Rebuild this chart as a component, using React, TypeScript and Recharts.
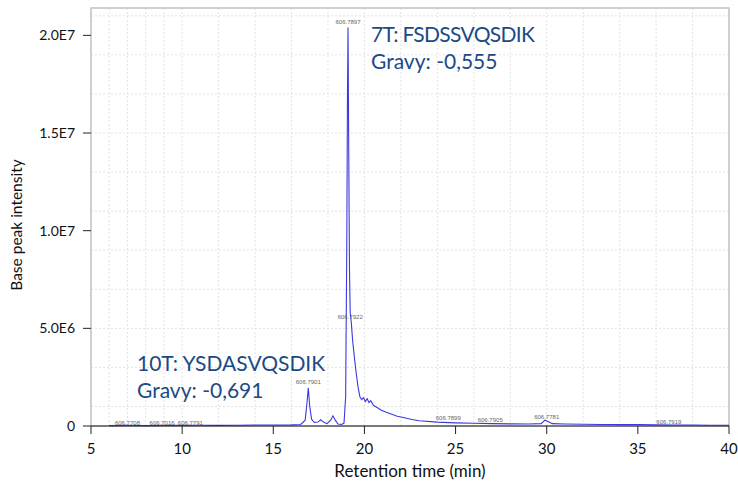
import React from 'react';
import {
  LineChart,
  Line,
  XAxis,
  YAxis,
  CartesianGrid,
  ReferenceArea,
  ReferenceDot,
} from 'recharts';

// retention time (min) and base peak intensity (x 1E6)
const retentionTime = [
  6, 7, 8, 9, 10, 11, 12, 13, 14, 15, 16, 16.5, 16.75, 16.85, 16.92, 17.0, 17.1, 17.25, 17.45, 17.6,
  17.75, 17.95, 18.15, 18.27, 18.4, 18.55, 18.75, 18.88, 18.97, 19.03, 19.07, 19.1, 19.14, 19.18,
  19.22, 19.28, 19.35, 19.45, 19.55, 19.65, 19.75, 19.85, 19.95, 20.05, 20.15, 20.25, 20.35, 20.5,
  20.7, 20.9, 21.2, 21.5, 21.8, 22.2, 22.6, 23, 24, 25, 26, 27, 28, 29, 29.7, 29.9, 30.1, 30.3, 31,
  32, 33, 34, 35, 36, 37, 38, 39, 40,
];
const intensity = [
  0.02, 0.03, 0.02, 0.03, 0.03, 0.04, 0.03, 0.04, 0.05, 0.05, 0.06, 0.08, 0.3, 1.2, 1.95, 1.0, 0.35,
  0.18, 0.2, 0.32, 0.2, 0.12, 0.3, 0.52, 0.3, 0.1, 0.08, 0.15, 1.5, 9, 17, 20.4, 14, 8, 5.8, 5.3, 4.4,
  3.5, 2.7, 2.0, 1.5, 1.35, 1.45, 1.25, 1.4, 1.2, 1.3, 1.05, 0.95, 0.82, 0.7, 0.6, 0.5, 0.42, 0.33,
  0.27, 0.2, 0.16, 0.14, 0.12, 0.11, 0.1, 0.12, 0.3, 0.22, 0.12, 0.1, 0.09, 0.08, 0.07, 0.07, 0.06,
  0.05, 0.05, 0.04, 0.04,
];

// m/z labels drawn over the trace
const peakTimes = [19.1, 19.22, 16.92, 7.0, 8.9, 10.45, 24.6, 26.9, 30.0, 36.7];
const peakLevels = [20.4, 5.6, 1.95, 0.15, 0.15, 0.15, 0.4, 0.3, 0.45, 0.22];
const peakTexts = [
  '606.7897', '606.7922', '606.7901', '606.7708', '606.7016', '606.7791',
  '606.7899', '606.7905', '606.7781', '606.7919',
];
const peakOnTop = [true, false, true, false, false, false, false, false, false, false];

const xTicks = [5, 10, 15, 20, 25, 30, 35, 40];
const yTicks = [0, 5, 10, 15, 20];
const gridX = Array.from({ length: 36 }, (_, i) => 5 + i);
const gridY = Array.from({ length: 22 }, (_, i) => i);

const data = retentionTime.map((t, i) => ({ t, v: intensity[i] }));

const fmtY = (v: number) =>
  v === 0 ? '0' : (v * 1e6).toExponential(1).toUpperCase().replace('E+', 'E');

const font = 'Lato, "Open Sans", sans-serif';
const noteColor = '#1b4a86';

export default function App() {
  return (
    <div style={{ position: 'absolute', left: 0, top: 0, width: 738, height: 490, fontFamily: font }}>
      <LineChart width={738} height={490} data={data} margin={{ top: 8, right: 9, left: 0, bottom: 0 }}>
        <CartesianGrid
          stroke="#e3e3e3"
          strokeDasharray="2 2"
          verticalValues={gridX}
          horizontalValues={gridY}
        />
        <XAxis
          dataKey="t"
          type="number"
          domain={[5, 40]}
          ticks={xTicks}
          height={64}
          stroke="#222"
          tickSize={8}
          tickMargin={9}
          tick={{ fill: '#111', fontSize: 15, fontFamily: font }}
        />
        <YAxis
          type="number"
          domain={[0, 21.4]}
          ticks={yTicks}
          width={91}
          axisLine={false}
          tickLine={{ stroke: '#222' }}
          tickSize={8}
          tickMargin={8}
          tickFormatter={fmtY}
          tick={{ fill: '#111', fontSize: 14, fontFamily: font }}
        />
        <ReferenceArea x1={5} x2={40} y1={0} y2={21.4} fill="none" stroke="#c2c2c2" strokeWidth={1.5} />
        <Line
          type="linear"
          dataKey="v"
          stroke="#3a3ae0"
          strokeWidth={1.1}
          dot={false}
          isAnimationActive={false}
        />
        {peakTimes.map((t, i) => (
          <ReferenceDot
            key={peakTexts[i]}
            x={t}
            y={peakLevels[i]}
            r={0}
            fill="none"
            stroke="none"
            label={{
              value: peakTexts[i],
              position: peakOnTop[i] ? 'top' : 'center',
              offset: 4,
              fontSize: 6,
              fill: '#666',
              fontFamily: 'Arial, sans-serif',
            }}
          />
        ))}
      </LineChart>
      <svg
        width={738}
        height={490}
        style={{ position: 'absolute', left: 0, top: 0, pointerEvents: 'none' }}
      >
        <text x={410} y={477} textAnchor="middle" fontSize={17} fill="#111" fontFamily={font}>
          Retention time (min)
        </text>
        <text
          x={22}
          y={225}
          transform="rotate(-90 22 225)"
          textAnchor="middle"
          fontSize={15.5}
          fill="#111"
          fontFamily={font}
        >
          Base peak intensity
        </text>
        <g fontSize={21} fill={noteColor} fontFamily={font}>
          <text x={371} y={42} textLength={164}>7T: FSDSSVQSDIK</text>
          <text x={371} y={69}>Gravy: -0,555</text>
          <text x={137} y={371}>10T: YSDASVQSDIK</text>
          <text x={137} y={398}>Gravy: -0,691</text>
        </g>
      </svg>
    </div>
  );
}
